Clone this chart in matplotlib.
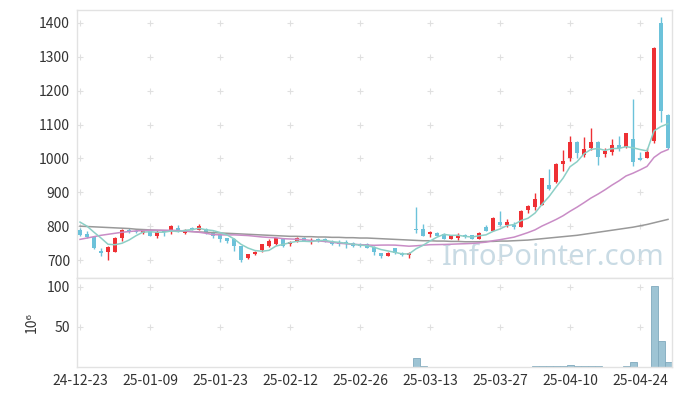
import matplotlib
matplotlib.use('Agg')
import matplotlib.pyplot as plt
import numpy as np
import pandas as pd

plt.rcParams['font.family'] = ['Noto Sans CJK KR', 'DejaVu Sans']

# daily OHLC (KRW)
opens = [790, 776, 767, 727, 723, 725, 764, 790, 787, 779,
         790, 772, 786, 789, 796, 779, 796, 790, 792, 782,
         774, 764, 762, 740, 705, 718, 729, 741, 748, 764,
         746, 754, 766, 752, 762, 762, 757, 754, 754, 751,
         748, 746, 739, 720, 713, 735, 722, 715, 791, 791,
         776, 780, 776, 763, 764, 774, 773, 762, 799, 787,
         812, 803, 803, 799, 848, 858, 863, 922, 929, 982,
         1000, 1049, 1010, 1031, 1049, 1013, 1020, 1040, 1033, 1058,
         1001, 1002, 1050, 1400, 1129]
highs = [795, 787, 772, 735, 742, 768, 791, 795, 791, 793,
         793, 789, 789, 803, 803, 793, 799, 805, 794, 786,
         776, 766, 766, 742, 719, 727, 748, 761, 766, 766,
         756, 767, 768, 766, 765, 764, 760, 758, 759, 754,
         751, 749, 742, 722, 723, 737, 724, 724, 856, 805,
         786, 783, 779, 775, 780, 778, 775, 783, 802, 827,
         844, 822, 811, 847, 862, 897, 943, 970, 987, 1025,
         1066, 1051, 1062, 1090, 1052, 1030, 1057, 1065, 1076, 1176,
         1020, 1030, 1329, 1417, 1131]
lows = [770, 765, 734, 713, 700, 724, 757, 780, 781, 777,
        770, 766, 772, 778, 782, 776, 790, 788, 778, 764,
        752, 750, 728, 695, 702, 714, 725, 738, 744, 738,
        742, 752, 755, 748, 754, 752, 744, 742, 737, 739,
        738, 735, 716, 707, 711, 718, 711, 707, 779, 771,
        768, 770, 761, 761, 760, 764, 762, 761, 785, 786,
        800, 798, 791, 797, 840, 848, 861, 908, 926, 964,
        991, 1002, 1003, 1026, 980, 1005, 1011, 1021, 1031, 977,
        994, 1000, 1045, 1108, 1028]
closes = [773, 767, 735, 720, 738, 766, 789, 782, 784, 791,
          772, 782, 782, 801, 784, 790, 792, 801, 780, 772,
          762, 756, 742, 700, 717, 725, 746, 755, 764, 740,
          752, 765, 756, 759, 756, 754, 746, 746, 746, 742,
          741, 737, 723, 712, 721, 720, 715, 722, 788, 772,
          784, 772, 763, 773, 774, 767, 763, 781, 787, 825,
          803, 812, 797, 845, 860, 879, 941, 911, 984, 992,
          1049, 1015, 1028, 1049, 1005, 1022, 1040, 1032, 1074, 989,
          996, 1020, 1327, 1139, 1030]

# volume in millions of shares
volume = [0.2] * 48 + [11.3, 1.2] + [0.3] * 15 + \
         [1.0, 1.0, 1.0, 1.0, 1.0, 2.2, 1.0, 1.0, 1.0, 1.0,
          0.3, 0.3, 0.3, 1.2, 6.2, 0.4, 0.5, 101.5, 33.0, 6.6]

# moving-average values before enough in-window history exists
ma5_head = [812, 800, 782, 765]
ma20_head = [761, 765, 769, 773, 776, 779, 782, 784, 786, 787,
             788, 788, 788, 788, 787, 786, 784, 782, 779]
# long moving average (grey line)
ma_long = [800, 799, 798, 797, 796, 795, 794, 793, 791, 790,
           789, 788, 787, 786, 786, 785, 784, 783, 782, 781,
           780, 779, 778, 777, 776, 775, 774, 773, 772, 771,
           770, 770, 769, 769, 768, 768, 767, 767, 766, 766,
           765, 765, 764, 763, 762, 761, 760, 759, 758, 757,
           757, 756, 756, 755, 755, 754, 754, 754, 755, 755,
           756, 756, 757, 758, 759, 761, 763, 765, 767, 769,
           771, 773, 776, 779, 782, 785, 788, 791, 794, 797,
           801, 805, 810, 815, 820]

tick_labels = ['24-12-23', '25-01-09', '25-01-23', '25-02-12', '25-02-26',
               '25-03-13', '25-03-27', '25-04-10', '25-04-24']


def moving_avg(vals, n, head):
    s = pd.Series(vals, dtype=float).rolling(n).mean().values
    s[:n - 1] = head
    return s


x = np.arange(len(closes))
o = np.array(opens, float)
c = np.array(closes, float)
up = c >= o
red = '#ee3034'
blue = '#6cc2da'
cols = np.where(up, red, blue)

fig = plt.figure(figsize=(6.8, 3.96), dpi=100)
ax = fig.add_axes([77 / 680, 1 - 278 / 396, 595 / 680, 268 / 396])
axv = fig.add_axes([77 / 680, 1 - 367 / 396, 595 / 680, 89 / 396], sharex=ax)

ax.vlines(x, lows, highs, colors=cols, linewidth=1, zorder=2)
body = np.maximum(np.abs(c - o), 1.5)
ax.bar(x, body, bottom=np.minimum(o, c), width=0.7, color=cols, zorder=3)

ax.plot(x, ma_long, color='#999999', lw=1.1, zorder=4)
ax.plot(x, moving_avg(closes, 20, ma20_head), color='#c98cc6', lw=1.1, zorder=4)
ax.plot(x, moving_avg(closes, 5, ma5_head), color='#8ccfc6', lw=1.1, zorder=4)

axv.bar(x, volume, width=1.0, color='#9ec4d4', edgecolor='#80aabd', linewidth=0.6)

ticks = np.arange(0, len(closes), 10)
ax.set_xlim(-0.43, 84.57)
ax.set_ylim(647, 1438)
axv.set_ylim(0, 111)

yt = np.arange(700, 1401, 100)
ax.set_yticks(yt)
axv.set_yticks([50, 100])
axv.set_xticks(ticks)
axv.set_xticklabels(tick_labels)
plt.setp(ax.get_xticklabels(), visible=False)

gx, gy = np.meshgrid(ticks, yt)
ax.scatter(gx.ravel(), gy.ravel(), marker='+', s=18, color='#e0e0e0', lw=0.8, zorder=1)
gx, gy = np.meshgrid(ticks, [50, 100])
axv.scatter(gx.ravel(), gy.ravel(), marker='+', s=18, color='#e0e0e0', lw=0.8, zorder=1)

for a in (ax, axv):
    a.tick_params(length=0, labelsize=10, colors='#333333', pad=5)
    for sp in a.spines.values():
        sp.set_color('#e2e2e2')
        sp.set_linewidth(1)

axv.set_ylabel('10⁶', fontsize=10, color='#333333', labelpad=6)

ax.text(0.988, 0.075, 'InfoPointer.com', transform=ax.transAxes, ha='right', va='center',
        fontsize=21, color='#c3d7e2', alpha=0.9, family='Noto Sans', zorder=0)

fig.savefig('out.png', dpi=100)
